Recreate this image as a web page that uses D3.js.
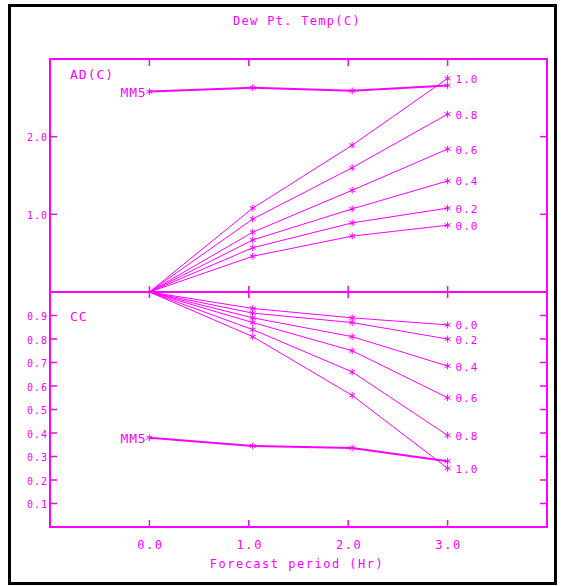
<!DOCTYPE html>
<html>
<head>
<meta charset="utf-8">
<script src="https://cdn.jsdelivr.net/npm/d3@7"></script>
<style>
  body { margin: 0; background: #fff; }
  svg { display: block; }
  text { font-family: "DejaVu Sans Mono", monospace; fill: #ff00ff; }
</style>
</head>
<body>
<svg width="561" height="586"></svg>
<script>
// forecast hours where points were plotted
const xVals = [0, 1.04, 2.04, 3.0];
const weights = ["0.0", "0.2", "0.4", "0.6", "0.8", "1.0"];

// AD(C) panel, one row per weight
const adSeries = [
  [0, 0.46, 0.72, 0.86],
  [0, 0.57, 0.89, 1.08],
  [0, 0.67, 1.07, 1.43],
  [0, 0.77, 1.31, 1.84],
  [0, 0.94, 1.60, 2.29],
  [0, 1.08, 1.89, 2.75]
];
const adMM5 = [2.58, 2.63, 2.59, 2.66];

// CC panel
const ccSeries = [
  [1, 0.93, 0.89, 0.86],
  [1, 0.91, 0.87, 0.80],
  [1, 0.89, 0.81, 0.685],
  [1, 0.87, 0.75, 0.55],
  [1, 0.84, 0.66, 0.39],
  [1, 0.81, 0.56, 0.25]
];
const ccMM5 = [0.38, 0.345, 0.336, 0.28];

const xTicks = [0, 1, 2, 3];
const adTicks = [1, 2];
const ccTicks = [0.1, 0.2, 0.3, 0.4, 0.5, 0.6, 0.7, 0.8, 0.9];

const pink = "#ff00ff";
const svg = d3.select("svg");

const pLeft = 50, pRight = 547, pTop = 59, pMid = 292, pBottom = 527;

const x = d3.scaleLinear().domain([-1, 4]).range([pLeft, pRight]);
const yAD = d3.scaleLinear().domain([0, 3]).range([pMid, pTop]);
const yCC = d3.scaleLinear().domain([0, 1]).range([pBottom, pMid]);

// outer black frame
svg.append("rect")
  .attr("x", 9.5).attr("y", 5.5)
  .attr("width", 546).attr("height", 578)
  .attr("fill", "none").attr("stroke", "#000").attr("stroke-width", 3);

svg.append("text")
  .attr("x", 297).attr("y", 25)
  .attr("text-anchor", "middle")
  .style("font-size", "12px").style("letter-spacing", "1.3px")
  .text("Dew Pt. Temp(C)");

// panel frames
[[pTop, pMid], [pMid, pBottom]].forEach(([t, b]) => {
  svg.append("rect")
    .attr("x", pLeft).attr("y", t)
    .attr("width", pRight - pLeft).attr("height", b - t)
    .attr("fill", "none").attr("stroke", pink).attr("stroke-width", 2);
});

const tickLen = 7;
function tickLine(x1, y1, x2, y2) {
  svg.append("line")
    .attr("x1", x1).attr("y1", y1).attr("x2", x2).attr("y2", y2)
    .attr("stroke", pink).attr("stroke-width", 1.5);
}

xTicks.forEach(t => {
  tickLine(x(t), pTop, x(t), pTop + tickLen);
  tickLine(x(t), pMid - 6, x(t), pMid + 6);
  tickLine(x(t), pBottom, x(t), pBottom - tickLen);
});
adTicks.forEach(t => {
  tickLine(pLeft, yAD(t), pLeft + tickLen, yAD(t));
  tickLine(pRight, yAD(t), pRight - tickLen, yAD(t));
});
ccTicks.forEach(t => {
  tickLine(pLeft, yCC(t), pLeft + tickLen, yCC(t));
  tickLine(pRight, yCC(t), pRight - tickLen, yCC(t));
});

// tick labels
svg.selectAll(".adlab").data(adTicks).enter().append("text")
  .attr("x", 48).attr("y", d => yAD(d) + 1)
  .attr("text-anchor", "end").attr("dominant-baseline", "central")
  .style("font-size", "10px").style("letter-spacing", "1px")
  .text(d => d.toFixed(1));

svg.selectAll(".cclab").data(ccTicks).enter().append("text")
  .attr("x", 48).attr("y", d => yCC(d) + 1)
  .attr("text-anchor", "end").attr("dominant-baseline", "central")
  .style("font-size", "10px").style("letter-spacing", "1px")
  .text(d => d.toFixed(1));

svg.selectAll(".xlab").data(xTicks).enter().append("text")
  .attr("x", d => x(d) + 1).attr("y", 549)
  .attr("text-anchor", "middle")
  .style("font-size", "12px").style("letter-spacing", "1.6px")
  .text(d => d.toFixed(1));

svg.append("text")
  .attr("x", 297).attr("y", 568)
  .attr("text-anchor", "middle")
  .style("font-size", "12px").style("letter-spacing", "1.5px")
  .text("Forecast period (Hr)");

svg.append("text").attr("x", 70).attr("y", 79)
  .style("font-size", "13px").style("letter-spacing", "1px").text("AD(C)");
svg.append("text").attr("x", 70).attr("y", 321)
  .style("font-size", "13px").style("letter-spacing", "1px").text("CC");

// series
const star = d3.symbol().type(d3.symbolAsterisk).size(32);

function drawPanel(series, mm5, y) {
  const line = d3.line().x((d, i) => x(xVals[i])).y(d => y(d));
  const g = svg.append("g");

  g.selectAll(".w").data(series).enter().append("path")
    .attr("d", line)
    .attr("fill", "none").attr("stroke", pink).attr("stroke-width", 1);

  series.forEach(s => {
    g.selectAll(null).data(s.slice(1)).enter().append("path")
      .attr("d", star)
      .attr("transform", (d, i) => `translate(${x(xVals[i + 1])},${y(d)})`)
      .attr("fill", "none").attr("stroke", pink).attr("stroke-width", 1);
  });

  g.selectAll(".rl").data(series).enter().append("text")
    .attr("x", x(xVals[3]) + 8).attr("y", d => y(d[3]) + 1)
    .attr("dominant-baseline", "central")
    .style("font-size", "11px").style("letter-spacing", "1px")
    .text((d, i) => weights[i]);

  g.append("path").datum(mm5)
    .attr("d", line)
    .attr("fill", "none").attr("stroke", pink).attr("stroke-width", 2);

  g.selectAll(".mm").data(mm5).enter().append("path")
    .attr("d", star)
    .attr("transform", (d, i) => `translate(${x(xVals[i])},${y(d)})`)
    .attr("fill", "none").attr("stroke", pink).attr("stroke-width", 1);

  g.append("text")
    .attr("x", x(0) - 3).attr("y", y(mm5[0]) + 1)
    .attr("text-anchor", "end").attr("dominant-baseline", "central")
    .style("font-size", "13px").style("letter-spacing", "0.8px")
    .text("MM5");
}

drawPanel(adSeries, adMM5, yAD);
drawPanel(ccSeries, ccMM5, yCC);
</script>
</body>
</html>
